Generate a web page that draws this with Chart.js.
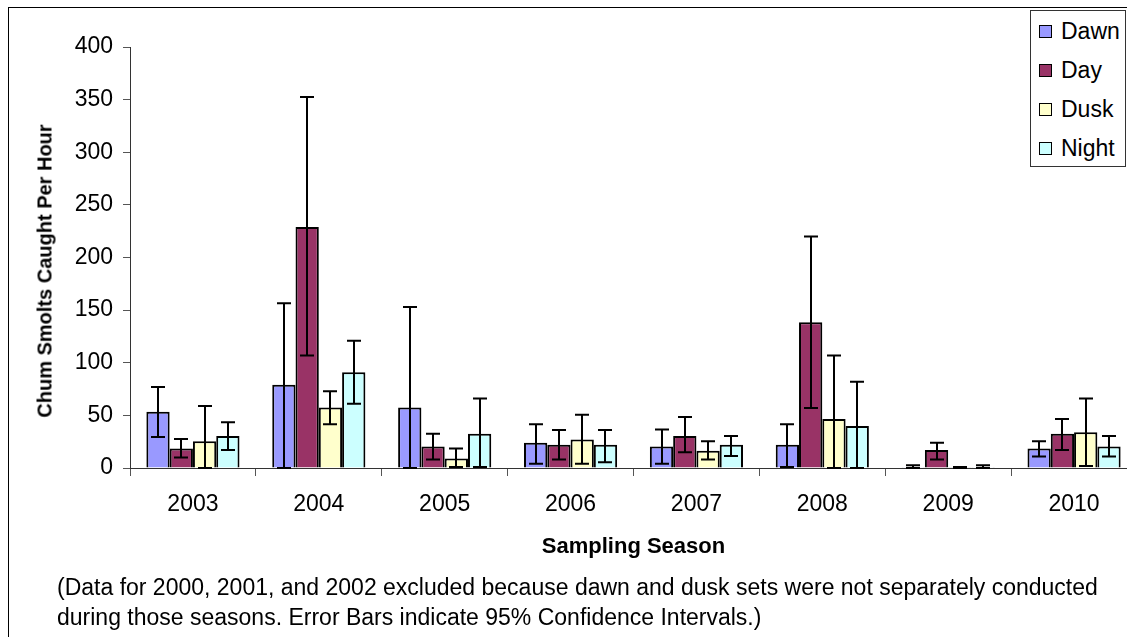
<!DOCTYPE html>
<html>
<head>
<meta charset="utf-8">
<script src="https://cdn.jsdelivr.net/npm/chart.js@4/dist/chart.umd.min.js"></script>
<style>
  html, body { margin: 0; padding: 0; background: #fff; overflow: hidden; }
  #page { position: relative; width: 1127px; height: 637px; overflow: hidden; font-family: "Liberation Sans", Arial, sans-serif; }
  #frame { position: absolute; left: 8px; top: 7px; width: 2000px; height: 2000px; border: 1px solid #000; }
  #wrap { position: absolute; left: 0; top: 0; width: 1150px; height: 637px; }
  #ytitle { position: absolute; left: 45px; top: 271px; transform: translate(-50%, -50%) rotate(-90deg); font-size: 20px; font-weight: bold; color: #000; white-space: nowrap; }
  #legend { position: absolute; left: 1030px; top: 10px; width: 94px; height: 155px; border: 1px solid #333; background: #fff; }
  .item { position: absolute; left: 8px; height: 26px; line-height: 26px; font-size: 23px; color: #000; white-space: nowrap; }
  .item span.sw { position: absolute; left: 0; top: 7px; width: 11px; height: 11px; border: 1px solid #000; }
  .item span.tx { position: absolute; left: 22px; top: 0; }
  #caption { position: absolute; left: 57px; top: 572px; font-size: 23px; line-height: 30px; color: #000; white-space: nowrap; }
</style>
</head>
<body>
<div id="page">
  <div id="frame"></div>
  <div id="wrap"><canvas id="chart" width="1150" height="637"></canvas></div>
  <div id="ytitle">Chum Smolts Caught Per Hour</div>
  <div id="legend"></div>
  <div id="caption">(Data for 2000, 2001, and 2002 excluded because dawn and dusk sets were not separately conducted<br>during those seasons. Error Bars indicate 95% Confidence Intervals.)</div>
</div>
<script>
// Sampling seasons
const seasons = ['2003', '2004', '2005', '2006', '2007', '2008', '2009', '2010'];

// Mean chum smolts caught per hour, by time of day
const dawn  = [53.5, 79, 57.5, 24, 20.5, 22, 0.8, 18.5];
const day   = [18.5, 229, 20.5, 22, 30.5, 138.5, 17, 32.5];
const dusk  = [25.5, 57.5, 9, 27, 16.5, 46.5, 0.6, 34];
const night = [30.5, 91, 32.5, 22, 22, 40, 0.8, 20.5];

// 95% confidence interval bounds
const dawnLow   = [29.5, 0, 0, 4, 4, 1, 0, 11];
const dawnHigh  = [77, 156.5, 153, 41.5, 36.5, 41.5, 2.5, 25.5];
const dayLow    = [10, 107, 8, 8, 15, 57, 8, 17];
const dayHigh   = [27.5, 352.5, 32.5, 36, 48.5, 220, 24, 46.5];
const duskLow   = [0, 41.5, 1, 4, 8, 0, 0, 2];
const duskHigh  = [59, 73, 18.5, 50.5, 25.5, 107, 1, 66];
const nightLow  = [17, 61, 1, 5.5, 11.5, 0, 0, 11];
const nightHigh = [43.5, 121, 66, 36, 30.5, 82, 2.5, 30.5];

// Y axis tick values
const yTicks = [0, 50, 100, 150, 200, 250, 300, 350, 400];

const seriesNames = ['Dawn', 'Day', 'Dusk', 'Night'];
const seriesColors = ['#9999FF', '#993366', '#FFFFCC', '#CCFFFF'];
const seriesValues = [dawn, day, dusk, night];
const seriesLow = [dawnLow, dayLow, duskLow, nightLow];
const seriesHigh = [dawnHigh, dayHigh, duskHigh, nightHigh];

const FONT = '"Liberation Sans", Arial, sans-serif';

// Draws the confidence interval whiskers on top of every bar
const errorBars = {
  id: 'errorBars',
  afterDatasetsDraw(chart) {
    const ctx = chart.ctx;
    const y = chart.scales.y;
    ctx.save();
    ctx.strokeStyle = '#000';
    ctx.lineWidth = 2;
    chart.data.datasets.forEach((ds, i) => {
      const meta = chart.getDatasetMeta(i);
      meta.data.forEach((bar, j) => {
        const lo = y.getPixelForValue(ds.errLow[j]);
        const hi = y.getPixelForValue(ds.errHigh[j]);
        const x = Math.round(bar.x);
        const cap = 7;
        ctx.beginPath();
        ctx.moveTo(x, lo); ctx.lineTo(x, hi);
        ctx.moveTo(x - cap, hi); ctx.lineTo(x + cap, hi);
        ctx.moveTo(x - cap, lo); ctx.lineTo(x + cap, lo);
        ctx.stroke();
      });
    });
    ctx.restore();
  }
};

new Chart(document.getElementById('chart'), {
  type: 'bar',
  data: {
    labels: seasons,
    datasets: seriesNames.map((name, i) => ({
      label: name,
      data: seriesValues[i],
      errLow: seriesLow[i],
      errHigh: seriesHigh[i],
      backgroundColor: seriesColors[i],
      borderColor: '#000',
      borderWidth: 2,
      barPercentage: 1,
      categoryPercentage: 0.74
    }))
  },
  options: {
    responsive: false,
    devicePixelRatio: 1,
    animation: false,
    layout: { padding: { left: 0, top: 47, right: 13, bottom: 77 } },
    plugins: {
      legend: { display: false },
      tooltip: { enabled: false }
    },
    scales: {
      x: {
        offset: true,
        grid: { offset: true, drawOnChartArea: false, drawTicks: true, tickLength: 8, color: '#555', lineWidth: 1 },
        border: { color: '#333', width: 1 },
        ticks: { font: { family: FONT, size: 23 }, color: '#000', padding: 15, maxRotation: 0 },
        title: { display: true, text: 'Sampling Season', color: '#000', font: { family: FONT, size: 22, weight: 'bold' }, padding: { top: 0, bottom: 0 } },
        afterFit(scale) { scale.height = 92; }
      },
      y: {
        min: 0,
        max: 400,
        afterBuildTicks(scale) { scale.ticks = yTicks.map(v => ({ value: v })); },
        grid: { drawOnChartArea: false, drawTicks: true, tickLength: 7, color: '#555', lineWidth: 1 },
        border: { color: '#333', width: 1 },
        ticks: { font: { family: FONT, size: 23 }, color: '#000', padding: 10 },
        title: { display: false },
        afterFit(scale) { scale.width = 130; }
      }
    }
  },
  plugins: [errorBars]
});

// Legend box
const legend = document.getElementById('legend');
seriesNames.forEach((name, i) => {
  const item = document.createElement('div');
  item.className = 'item';
  item.style.top = (7 + i * 39) + 'px';
  const sw = document.createElement('span');
  sw.className = 'sw';
  sw.style.background = seriesColors[i];
  const tx = document.createElement('span');
  tx.className = 'tx';
  tx.textContent = name;
  item.appendChild(sw);
  item.appendChild(tx);
  legend.appendChild(item);
});
</script>
</body>
</html>
